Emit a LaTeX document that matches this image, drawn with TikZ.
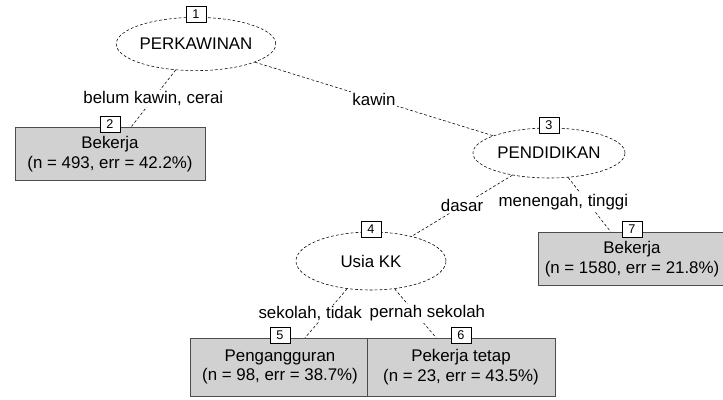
\documentclass[tikz,border=0pt]{standalone}
\usepackage{fontspec}
\setmainfont{Liberation Sans}
\usetikzlibrary{shapes.geometric}
\begin{document}
\begin{tikzpicture}[
    x=0.025cm, y=-0.025cm,
    split/.style={ellipse, draw, dash pattern=on 2pt off 1.5pt, fill=white, inner sep=0pt, font=\fontsize{12}{14}\selectfont},
    leaf/.style={rectangle, draw=black!70, fill=black!18, align=center, inner sep=0pt, font=\fontsize{12}{14}\selectfont},
    idbox/.style={rectangle, draw, fill=white, minimum width=0.5cm, minimum height=0.4cm, inner sep=1pt, yshift=2pt, font=\fontsize{9}{10}\selectfont},
    edge/.style={dash pattern=on 2pt off 1.5pt},
    lab/.style={fill=white, inner sep=1pt, font=\fontsize{12}{14}\selectfont}
]
\useasboundingbox (0,0) rectangle (723,400);
% inner nodes
\node[split, minimum width=3.9cm,  minimum height=1.33cm] (n1) at (196,44)  {PERKAWINAN};
\node[split, minimum width=3.8cm,  minimum height=1.25cm] (n3) at (549,153) {PENDIDIKAN};
\node[split, minimum width=3.75cm, minimum height=1.45cm] (n4) at (371,261) {Usia KK};
% terminal nodes
\node[leaf, minimum width=4.75cm, minimum height=1.33cm] (n2) at (110,154) {Bekerja\\(n = 493, err = 42.2\%)};
\node[leaf, minimum width=4.5cm,  minimum height=1.45cm] (n5) at (280,367) {Pengangguran\\(n = 98, err = 38.7\%)};
\node[leaf, minimum width=4.7cm,  minimum height=1.45cm] (n6) at (461,367) {Pekerja tetap\\(n = 23, err = 43.5\%)};
\node[leaf, minimum width=4.7cm,  minimum height=1.33cm] (n7) at (632,259) {Bekerja\\(n = 1580, err = 21.8\%)};
% connectors
\draw[edge] (n1) -- node[lab] {belum kawin, cerai} (n2);
\draw[edge] (n1) -- node[lab] {kawin} (n3);
\draw[edge] (n3) -- node[lab] {dasar} (n4);
\draw[edge] (n3) -- node[lab, pos=0.45, xshift=-0.6cm] {menengah, tinggi} (n7);
\draw[edge] (n4) -- node[lab, xshift=-0.4cm] {sekolah, tidak} (n5);
\draw[edge] (n4) -- node[lab, xshift=0.3cm] {pernah sekolah} (n6);
% node numbers
\node[idbox] (id1) at (n1.north) {1};
\node[idbox] (id2) at (n2.north) {2};
\node[idbox] (id3) at (n3.north) {3};
\node[idbox] (id4) at (n4.north) {4};
\node[idbox] (id5) at (n5.north) {5};
\node[idbox] (id6) at (n6.north) {6};
\node[idbox] (id7) at (n7.north) {7};
\end{tikzpicture}
\end{document}
